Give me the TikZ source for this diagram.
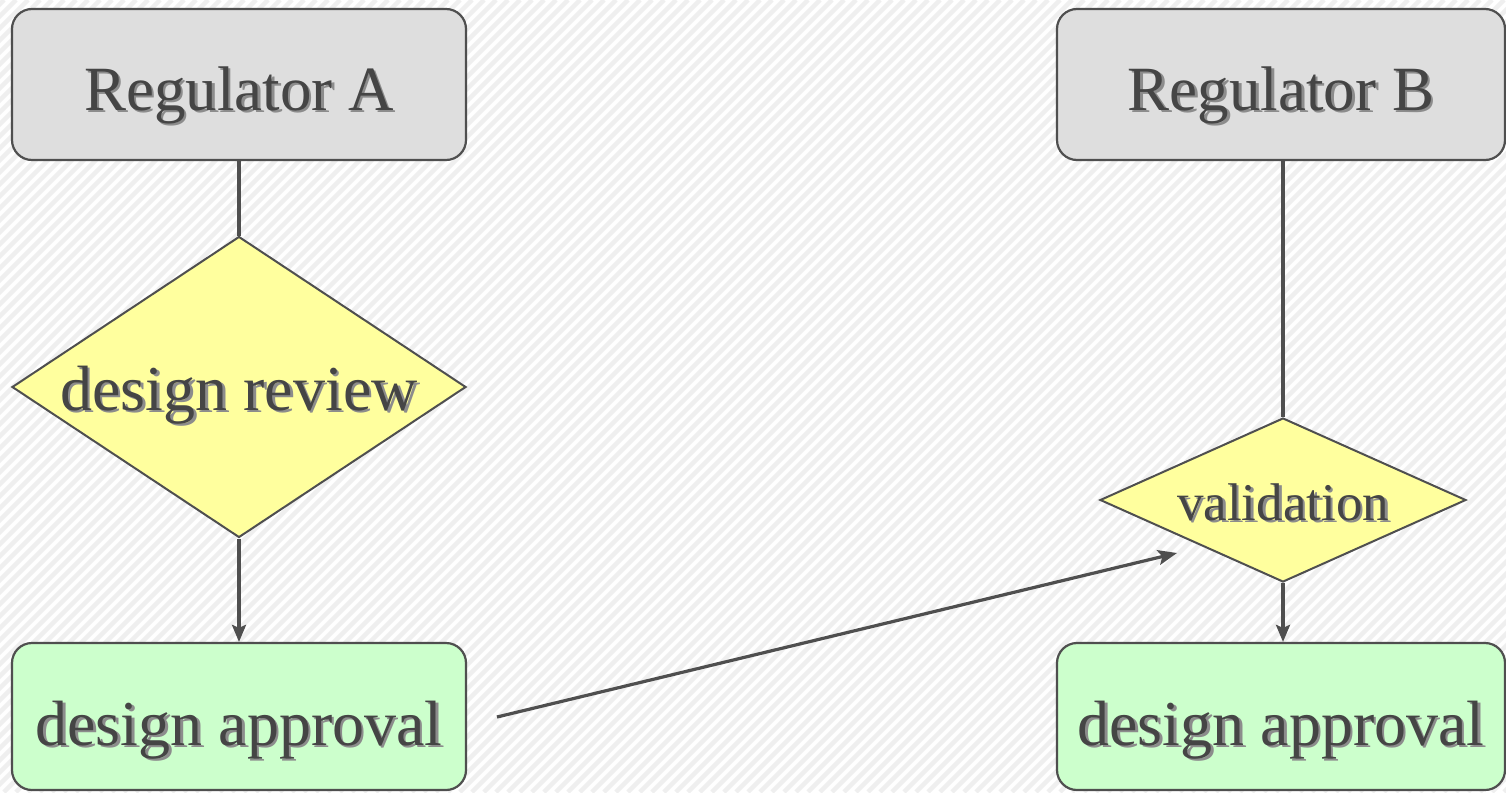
\documentclass[tikz,border=0pt]{standalone}
\usepackage{fontspec}
\setmainfont{Liberation Serif}
\usetikzlibrary{shapes.geometric,arrows.meta,calc}

\definecolor{inkc}{HTML}{454545}
\definecolor{edgec}{HTML}{4F4F4F}
\definecolor{greyfill}{HTML}{DEDEDE}
\definecolor{yellowfill}{HTML}{FFFF9E}
\definecolor{greenfill}{HTML}{CCFFCC}
\definecolor{stripec}{HTML}{EFEFEF}

% label text with a drop shadow, its baseline #1 below the node centre
\newcommand{\shadowed}[2]{\raisebox{-#1}[0pt][0pt]{%
  \rlap{\kern2.6pt\raisebox{-2.6pt}{\color{black!45}#2}}%
  #2}}

\tikzset{
  box/.style={draw=edgec, line width=2.2pt, rounded corners=20pt, inner sep=0pt,
              text=inkc},
  regbox/.style={box, fill=greyfill, minimum height=151pt, font=\fontsize{63}{70}\selectfont},
  apprbox/.style={box, fill=greenfill, minimum height=147pt, font=\fontsize{64}{72}\selectfont},
  decision/.style={diamond, draw=edgec, line width=2pt, fill=yellowfill, inner sep=0pt,
                   text=inkc},
  link/.style={draw=edgec, line width=3.2pt},
  flow/.style={link, -{Stealth[length=17pt,width=14pt,inset=3pt]}},
}

\begin{document}
\begin{tikzpicture}[x=1pt,y=-1pt]
  % canvas with light diagonal stripes
  \fill[white] (0,0) rectangle (1506,792);
  \begin{scope}
    \clip (0,0) rectangle (1506,792);
    \foreach \s in {-800,-788,...,1520}
      \draw[stripec, line width=4.5pt] (\s,792) -- ++(792,-792);
  \end{scope}
  \useasboundingbox (0,0) rectangle (1506,792);

  % left column
  \node[regbox, minimum width=454pt] (regA) at (239,84.5) {\shadowed{25.5pt}{Regulator A}};
  \node[decision, minimum width=454pt, minimum height=301pt, aspect=1.508,
        font=\fontsize{64}{72}\selectfont] (revA) at (239,387) {\shadowed{23pt}{design review}};
  \node[apprbox, minimum width=454pt] (appA) at (239,716.5) {\shadowed{28.5pt}{design approval}};

  % right column
  \node[regbox, minimum width=448pt] (regB) at (1281,84.5) {\shadowed{25.5pt}{Regulator B}};
  \node[decision, minimum width=366pt, minimum height=164pt, aspect=2.232,
        font=\fontsize{53}{60}\selectfont] (valB) at (1283,500) {\shadowed{20pt}{validation}};
  \node[apprbox, minimum width=448pt] (appB) at (1281,716.5) {\shadowed{28.5pt}{design approval}};

  % connectors
  \draw[link] (regA.south) -- (revA.north);
  \draw[flow] (revA.south) -- (appA.north);
  \draw[link] (valB.north |- regB.south) -- (valB.north);
  \draw[flow] (valB.south) -- (valB.south |- appB.north);

  \coordinate (crossFrom) at (497,717);
  \coordinate (crossTo) at (1177,553);
  \draw[link, -{Stealth[length=19pt,width=15pt,inset=4pt]}] (crossFrom) -- (crossTo);
\end{tikzpicture}
\end{document}
